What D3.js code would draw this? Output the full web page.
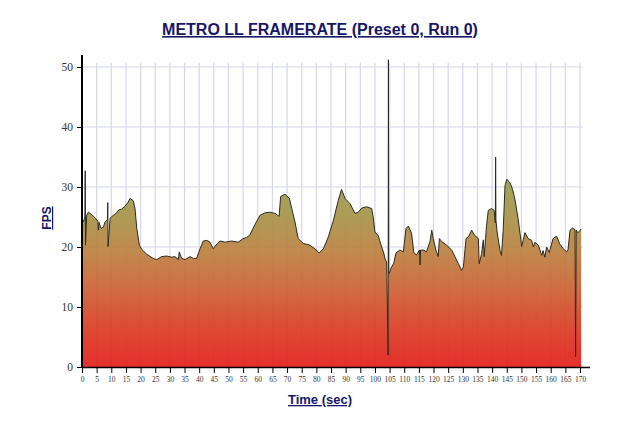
<!DOCTYPE html>
<html>
<head>
<meta charset="utf-8">
<script src="https://cdn.jsdelivr.net/npm/d3@7"></script>
<style>
  html, body { margin: 0; padding: 0; background: #ffffff; }
  svg { display: block; }
</style>
</head>
<body>
<svg id="chart" width="640" height="438"></svg>
<script>
// ---- data ----
const chartTitle = "METRO LL FRAMERATE (Preset 0, Run 0)";
const xLabel = "Time (sec)";
const yLabel = "FPS";
const xTickValues = d3.range(0, 171, 5);
const yTickValues = [0, 10, 20, 30, 40, 50];

const times = [
  0, 0.5, 1.0, 1.1, 1.2, 1.6, 2.2, 3.3, 4.4, 5.4, 5.6, 5.8, 6.5, 7.3, 7.8, 8.7, 8.8, 8.9, 9.6,
  10.7, 11.8, 12.6, 13.5, 14.7, 15.8, 16.4, 17.5, 18.1, 18.7, 19.6, 20.4, 22.1, 24.3, 25.5,
  27.2, 28.9, 30.6, 31.7, 32.9, 33.2, 34.0, 35.2, 36.9, 38.0, 39.1, 40.3, 41.4, 42.6, 43.7,
  44.8, 46.0, 47.1, 48.8, 51.1, 53.3, 55.0, 56.2, 57.3, 59.0, 60.8, 62.5, 64.2, 65.9, 67.3,
  67.8, 69.3, 70.8, 71.6, 72.7, 73.8, 75.5, 77.8, 79.5, 81.0, 82.4, 84.1, 85.8, 87.5, 88.6,
  89.8, 91.5, 93.2, 94.3, 95.5, 97.2, 98.9, 99.4, 100.0, 101.1, 102.3, 103.0, 103.6, 104.0,
  104.5, 104.6, 104.7, 104.9, 105.5, 106.4, 107.2, 108.5, 109.7, 110.6, 111.4, 112.5, 113.3,
  114.2, 115.2, 115.4, 115.6, 116.5, 117.6, 118.8, 119.4, 119.9, 120.8, 121.6, 122.0, 122.8,
  124.5, 126.2, 127.3, 128.4, 129.6, 130.2, 131.1, 131.9, 133.0, 134.1, 135.3, 135.6, 136.4,
  137.0, 137.3, 138.1, 138.7, 139.8, 140.7, 141.1, 141.2, 141.3, 141.7, 142.7, 143.2, 143.8,
  144.4, 145.0, 146.1, 147.0, 147.8, 148.9, 150.1, 151.2, 152.3, 153.5, 154.1, 154.6, 155.8,
  156.9, 157.4, 158.0, 158.6, 159.5, 160.8, 162.0, 163.1, 164.3, 165.4, 165.9, 166.6, 167.5,
  167.9, 168.3, 168.5, 168.7, 169.2, 169.8, 170.4
];
const fps = [
  24.8, 24.2, 25.0, 32.7, 20.3, 25.3, 25.8, 25.4, 24.9, 24.3, 22.8, 24.1, 23.1, 23.3, 24.1, 24.6, 27.4, 20.1, 24.8,
  25.3, 25.7, 26.2, 26.3, 26.8, 27.5, 28.1, 27.7, 26.4, 23.1, 20.3, 19.6, 18.8, 18.1, 17.9,
  18.4, 18.5, 18.3, 18.4, 17.9, 19.2, 18.1, 17.9, 18.4, 18.1, 18.1, 19.7, 21.0, 21.1, 20.8,
  19.7, 20.5, 21.0, 20.8, 21.0, 20.8, 21.4, 21.6, 22.0, 23.7, 25.3, 25.7, 25.8, 25.6, 25.1,
  28.4, 28.8, 28.1, 26.4, 24.2, 21.4, 20.6, 20.3, 19.7, 19.0, 19.7, 21.7, 24.4, 27.8, 29.6,
  28.1, 27.2, 25.6, 25.8, 26.5, 26.7, 26.4, 25.0, 22.5, 21.9, 20.0, 19.0, 17.8, 17.5,
  2.0, 51.2, 15.6, 15.6, 16.5, 17.3, 19.0, 19.5, 19.2, 23.1, 23.5, 22.3, 19.0,
  18.7, 19.5, 17.0, 19.5, 19.5, 19.2, 20.9, 22.8, 21.4, 19.5, 18.4, 21.4, 20.9,
  20.3, 19.5, 18.4, 17.3, 16.1, 16.7, 21.4, 21.7, 22.8, 21.9, 21.4, 17.2, 18.9,
  21.2, 18.4, 23.6, 26.1, 26.4, 26.1, 24.0, 35.0, 24.5, 22.5, 19.4, 18.6, 23.0,
  30.2, 31.3, 30.7, 29.6, 27.9, 24.6, 20.1, 22.4, 21.4, 21.1, 20.0, 20.8, 20.3,
  18.6, 19.4, 18.3, 20.0, 19.1, 21.4, 21.8, 20.5, 19.7, 19.2, 19.5, 22.8, 23.2,
  23.0, 22.9, 1.7, 22.8, 22.4, 22.6, 23.0
];

const gradientStops = [
  { v: 0,  c: "#e2201c" },
  { v: 6,  c: "#dc3a24" },
  { v: 13, c: "#cd6234" },
  { v: 19, c: "#bd8040" },
  { v: 25, c: "#a89448" },
  { v: 31, c: "#979d52" },
  { v: 37, c: "#8e9868" }
];

// ---- drawing ----
const svg = d3.select("#chart");
const x = d3.scaleLinear().domain([0, 170]).range([82, 580]);
const y = d3.scaleLinear().domain([0, 52]).range([367, 55]);
const data = times.map((t, i) => ({ t, v: fps[i] }));

// gradient keyed to data values
const defs = svg.append("defs");
const grad = defs.append("linearGradient")
  .attr("id", "fillGrad")
  .attr("gradientUnits", "userSpaceOnUse")
  .attr("x1", 0).attr("x2", 0)
  .attr("y1", y(0)).attr("y2", y(37));
grad.selectAll("stop").data(gradientStops).join("stop")
  .attr("offset", d => d.v / 37)
  .attr("stop-color", d => d.c);

// grid
const grid = svg.append("g").attr("class", "grid");
grid.selectAll("line.h").data(yTickValues.filter(d => d > 0)).join("line")
  .attr("x1", x(0)).attr("x2", x(170) + 3)
  .attr("y1", d => y(d)).attr("y2", d => y(d))
  .attr("stroke", "#d6d6ec").attr("stroke-width", 1.2);
grid.selectAll("line.v").data(xTickValues.filter(d => d > 0)).join("line")
  .attr("x1", d => x(d)).attr("x2", d => x(d))
  .attr("y1", y(50.7)).attr("y2", y(0))
  .attr("stroke", "#d6d6ec").attr("stroke-width", 1.2);

// area
const area = d3.area()
  .x(d => x(d.t)).y0(y(0)).y1(d => y(d.v));
const line = d3.line()
  .x(d => x(d.t)).y(d => y(d.v));

svg.append("path").datum(data)
  .attr("d", area)
  .attr("fill", "url(#fillGrad)")
  .attr("fill-opacity", 0.93);
svg.append("path").datum(data)
  .attr("d", line)
  .attr("fill", "none")
  .attr("stroke", "#2a2a22")
  .attr("stroke-width", 1)
  .attr("stroke-linejoin", "round");

// axes
const xAxis = d3.axisBottom(x).tickValues(xTickValues).tickSize(6).tickPadding(4);
const gx = svg.append("g").attr("transform", `translate(0,${y(0)})`).call(xAxis);
gx.select(".domain").attr("d", `M${x(0)},0.5H590`).attr("stroke", "#000").attr("stroke-width", 1.5);
gx.selectAll(".tick line").attr("stroke", "#000");
gx.selectAll(".tick text")
  .attr("font-family", "'Liberation Serif', 'Times New Roman', serif")
  .attr("font-size", 7.5).attr("fill", "#333");

const yAxis = d3.axisLeft(y).tickValues(yTickValues).tickSize(5).tickPadding(4);
const gy = svg.append("g").attr("transform", `translate(${x(0)},0)`).call(yAxis);
gy.select(".domain").attr("d", `M0,${y(0)}V${y(52)}`).attr("stroke", "#000").attr("stroke-width", 2);
gy.selectAll(".tick line").attr("stroke", "#000");
gy.selectAll(".tick text")
  .attr("font-family", "'Liberation Serif', 'Times New Roman', serif")
  .attr("font-size", 11.5).attr("fill", "#333");

// titles
svg.append("text")
  .attr("x", 320).attr("y", 35)
  .attr("text-anchor", "middle")
  .attr("font-family", "'Liberation Sans', Arial, sans-serif")
  .attr("font-weight", "bold").attr("font-size", 16)
  .attr("fill", "#16166a")
  .style("text-decoration", "underline")
  .text(chartTitle);

svg.append("text")
  .attr("x", 320).attr("y", 404)
  .attr("text-anchor", "middle")
  .attr("font-family", "'Liberation Sans', Arial, sans-serif")
  .attr("font-weight", "bold").attr("font-size", 13)
  .attr("fill", "#16166a")
  .style("text-decoration", "underline")
  .text(xLabel);

svg.append("text")
  .attr("transform", "translate(51,218) rotate(-90)")
  .attr("text-anchor", "middle")
  .attr("font-family", "'Liberation Sans', Arial, sans-serif")
  .attr("font-weight", "bold").attr("font-size", 12)
  .attr("fill", "#16166a")
  .style("text-decoration", "underline")
  .text(yLabel);
</script>
</body>
</html>
